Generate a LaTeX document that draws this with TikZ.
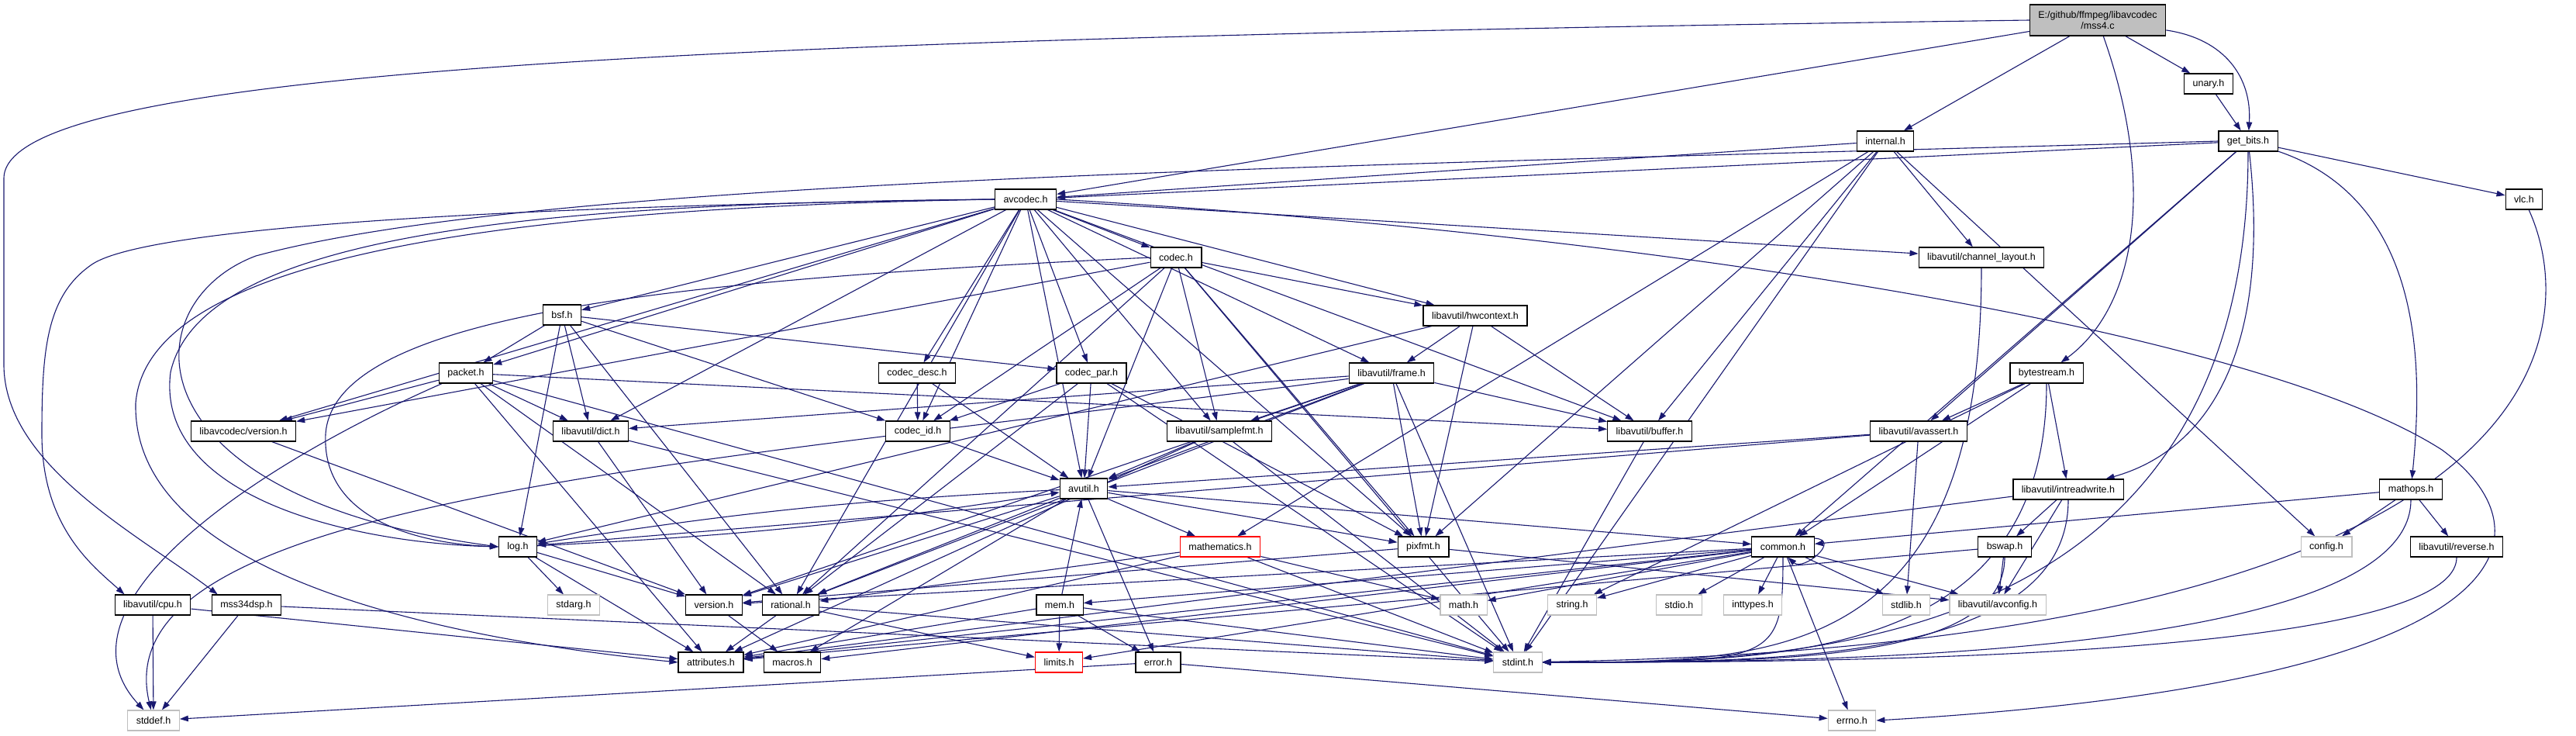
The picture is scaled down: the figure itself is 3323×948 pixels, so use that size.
\documentclass[tikz,border=0pt]{standalone}
\usepackage{fontspec}
\setmainfont{Liberation Sans}
\usetikzlibrary{arrows.meta,backgrounds}
\definecolor{dxEdge}{HTML}{191970}
\definecolor{dxGray}{HTML}{BFBFBF}
\definecolor{dxRed}{HTML}{FF0000}
\tikzset{
  hdr/.style={
    draw=black, fill=white, line width=1.2pt, minimum height=26pt,
    inner xsep=11pt, inner ysep=0pt, font=\fontsize{12.5}{14}\selectfont
  },
  syshdr/.style={hdr, draw=dxGray},
  cuthdr/.style={hdr, draw=dxRed},
  srcfile/.style={hdr, fill=dxGray, minimum height=40pt, align=center},
  dep/.style={draw=dxEdge, line width=1.1pt, -{Triangle[length=11pt,width=7.5pt]}}
}
\begin{document}
\begin{tikzpicture}[x=1pt, y=-1pt]
  \useasboundingbox (0,0) rectangle (3323,948);

  % files
  \node[srcfile] (root) at (2706,26) {E:/github/ffmpeg/libavcodec\\/mss4.c};
  \node[hdr] (unary) at (2849,108) {unary.h};
  \node[hdr] (getbits) at (2900,182) {get\_bits.h};
  \node[hdr] (internal) at (2432,182) {internal.h};
  \node[hdr] (avcodec) at (1323,257) {avcodec.h};
  \node[hdr] (vlc) at (3256,257) {vlc.h};
  \node[hdr] (codec) at (1517,332) {codec.h};
  \node[hdr] (chlayout) at (2556,332) {libavutil/channel\_layout.h};
  \node[hdr] (bsf) at (725,406) {bsf.h};
  \node[hdr] (hwctx) at (1903,407) {libavutil/hwcontext.h};
  \node[hdr] (packet) at (601,481) {packet.h};
  \node[hdr] (codecdesc) at (1183,481) {codec\_desc.h};
  \node[hdr] (codecpar) at (1408,481) {codec\_par.h};
  \node[hdr] (frame) at (1795,481) {libavutil/frame.h};
  \node[hdr] (bytestream) at (2640,481) {bytestream.h};
  \node[hdr] (lcversion) at (314,556) {libavcodec/version.h};
  \node[hdr] (dict) at (762,556) {libavutil/dict.h};
  \node[hdr] (codecid) at (1184,556) {codec\_id.h};
  \node[hdr] (samplefmt) at (1573,556) {libavutil/samplefmt.h};
  \node[hdr] (buffer) at (2128,556) {libavutil/buffer.h};
  \node[hdr] (avassert) at (2475,556) {libavutil/avassert.h};
  \node[hdr] (avutil) at (1398,630) {avutil.h};
  \node[hdr] (intrw) at (2668,631) {libavutil/intreadwrite.h};
  \node[hdr] (mathops) at (3110,631) {mathops.h};
  \node[hdr] (log) at (668,705) {log.h};
  \node[cuthdr] (mathem) at (1574,705) {mathematics.h};
  \node[hdr] (pixfmt) at (1836,705) {pixfmt.h};
  \node[hdr] (common) at (2300,705) {common.h};
  \node[hdr] (bswap) at (2586,705) {bswap.h};
  \node[syshdr] (config) at (3001,705) {config.h};
  \node[hdr] (reverse) at (3169,705) {libavutil/reverse.h};
  \node[hdr] (cpu) at (197,780) {libavutil/cpu.h};
  \node[hdr] (mss34) at (318,780) {mss34dsp.h};
  \node[syshdr] (stdarg) at (740,780) {stdarg.h};
  \node[hdr] (version) at (921,780) {version.h};
  \node[hdr] (rational) at (1020,780) {rational.h};
  \node[hdr] (mem) at (1367,780) {mem.h};
  \node[syshdr] (mathh) at (1888,780) {math.h};
  \node[syshdr] (stringh) at (2028,780) {string.h};
  \node[syshdr] (stdio) at (2166,780) {stdio.h};
  \node[syshdr] (inttypes) at (2261,780) {inttypes.h};
  \node[syshdr] (stdlib) at (2459,780) {stdlib.h};
  \node[syshdr] (avconfig) at (2577,780) {libavutil/avconfig.h};
  \node[hdr] (attributes) at (917,854) {attributes.h};
  \node[hdr] (macros) at (1022,854) {macros.h};
  \node[cuthdr] (limits) at (1366,854) {limits.h};
  \node[hdr] (errorh) at (1494,854) {error.h};
  \node[syshdr] (stdint) at (1958,854) {stdint.h};
  \node[syshdr] (stddef) at (198,929) {stddef.h};
  \node[syshdr] (errno) at (2389,929) {errno.h};

  \begin{scope}[on background layer]
  \fill[white] (0,0) rectangle (3323,948);

  % includes, straight
  \foreach \a/\b in {
    root/avcodec, root/internal, root/unary, unary/getbits,
    getbits/avcodec, getbits/vlc, getbits/avassert, getbits/common,
    internal/avcodec, internal/chlayout, internal/buffer, internal/mathem,
    internal/pixfmt, internal/stdint, internal/config,
    avcodec/samplefmt, avcodec/avutil, avcodec/buffer, avcodec/chlayout,
    avcodec/dict, avcodec/frame, avcodec/hwctx, avcodec/pixfmt,
    avcodec/rational, avcodec/bsf, avcodec/codec, avcodec/codecdesc,
    avcodec/codecpar, avcodec/codecid, avcodec/packet, avcodec/lcversion,
    codec/avutil, codec/hwctx, codec/pixfmt, codec/rational, codec/samplefmt,
    codec/codecid, codec/lcversion, codec/stdint,
    bsf/dict, bsf/log, bsf/rational, bsf/codecid, bsf/codecpar, bsf/packet,
    hwctx/buffer, hwctx/frame, hwctx/log, hwctx/pixfmt,
    packet/stdint, packet/attributes, packet/buffer, packet/dict,
    packet/rational, packet/lcversion,
    codecdesc/avutil, codecdesc/codecid,
    codecpar/stdint, codecpar/avutil, codecpar/rational, codecpar/pixfmt,
    codecpar/codecid,
    frame/stdint, frame/avutil, frame/buffer, frame/dict, frame/rational,
    frame/samplefmt, frame/pixfmt, frame/version,
    bytestream/stringh, bytestream/avassert, bytestream/common, bytestream/intrw,
    lcversion/version, dict/stdint, dict/version, codecid/avutil,
    samplefmt/stdint, samplefmt/avutil, samplefmt/attributes,
    buffer/stdint, avassert/stdlib, avassert/avutil, avassert/log,
    avutil/common, avutil/errorh, avutil/rational, avutil/version,
    avutil/macros, avutil/mathem, avutil/pixfmt,
    intrw/avconfig, intrw/attributes, intrw/bswap,
    mathops/config, mathops/common, mathops/reverse,
    log/stdarg, log/attributes, log/version,
    mathem/stdint, mathem/mathh, mathem/attributes, mathem/rational,
    pixfmt/avconfig, pixfmt/version,
    common/errno, common/inttypes, common/limits, common/mathh, common/stdio,
    common/stdlib, common/stringh, common/attributes, common/macros,
    common/version, common/avconfig, common/mem,
    bswap/avconfig, bswap/attributes, cpu/attributes, cpu/stddef,
    mss34/stdint, mss34/stddef,
    rational/stdint, rational/limits, rational/attributes,
    mem/attributes, mem/errorh, mem/avutil, mem/limits, mem/stdint,
    errorh/errno, errorh/stddef, version/macros}
    \draw[dep] (\a) -- (\b);

  % bundle into stdint from the right
  \foreach \a in {getbits, chlayout, bytestream, intrw, bswap, mathops, reverse, common}
    \draw[dep] (\a) .. controls (\a |- stdint) and ([xshift=300pt]stdint.east) .. (stdint);

  % long routed includes
  \draw[dep] (root.west) .. controls (900,50) and (5,90) .. (5,230) -- (5,470)
    .. controls (5,600) and (180,690) .. ([xshift=8pt]mss34.north west);
  \draw[dep] (root) .. controls (2785,250) and (2750,400) .. (bytestream);
  \draw[dep] (root) .. controls (2870,50) and (2905,100) .. (getbits);
  \draw[dep] (getbits) .. controls (3130,260) and (3125,480) .. (mathops);
  \draw[dep] (getbits) .. controls (2930,450) and (2850,580) .. (intrw);
  \draw[dep] (getbits.west) .. controls (1700,215) and (700,230) .. (330,330)
    .. controls (170,390) and (160,640) .. (log.west);
  \draw[dep] (avcodec.west) .. controls (700,262) and (260,300) .. (220,480)
    .. controls (200,640) and (450,700) .. (log.west);
  \draw[dep] (avcodec.west) .. controls (650,268) and (190,330) .. (175,520)
    .. controls (170,760) and (640,830) .. (attributes.west);
  \draw[dep] (avcodec.west) .. controls (700,265) and (200,290) .. (120,340)
    .. controls (60,380) and (54,450) .. (54,560)
    .. controls (54,680) and (120,730) .. ([xshift=13pt]cpu.north west);
  \draw[dep] (avcodec.east) .. controls (2100,300) and (2900,420) .. (3150,580)
    .. controls (3300,690) and (3260,880) .. (errno.east);
  \draw[dep] (codec.west) .. controls (900,360) and (430,400) .. (420,560)
    .. controls (415,660) and (520,700) .. (log.west);
  \draw[dep] (vlc) .. controls (3330,420) and (3320,830) .. (stdint);
  \draw[dep] (packet) .. controls (330,600) and (60,780) .. (stddef);
  \draw[dep] (frame) .. controls (900,600) and (130,640) .. (stddef);
  \draw[dep] (avutil) to[bend right=3] (log);
  \draw[dep] (log) to[bend right=3] (avutil);
  \draw[dep] (common.15) .. controls +(35,2) and +(20,18) .. (common.-65);
  \end{scope}
\end{tikzpicture}
\end{document}
